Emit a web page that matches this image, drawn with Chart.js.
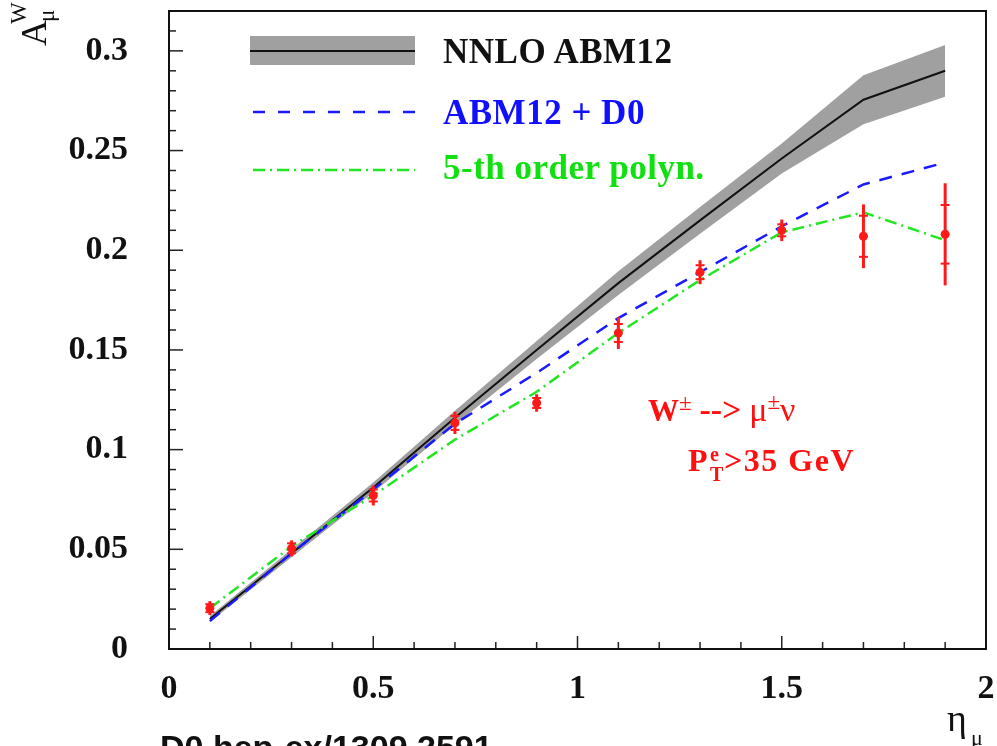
<!DOCTYPE html>
<html>
<head>
<meta charset="utf-8">
<script src="https://cdn.jsdelivr.net/npm/chart.js@4/dist/chart.umd.min.js"></script>
<style>
  html, body { margin: 0; padding: 0; background: #fff; }
  #wrap { position: relative; width: 997px; height: 746px; overflow: hidden; }
  canvas { position: absolute; left: 0; top: 0; }
  .t { position: absolute; white-space: nowrap; line-height: 1; font-family: "Liberation Serif", "Times New Roman", serif; }
  .b { font-weight: bold; }
  .s { position: absolute; line-height: 1; }
</style>
</head>
<body>
<div id="wrap">
  <canvas id="c" width="997" height="746"></canvas>

  <div class="t b" style="left:443px; top:34px; font-size:35px; letter-spacing:0.5px; color:#111;">NNLO ABM12</div>
  <div class="t b" style="left:443px; top:95px; font-size:35px; letter-spacing:0.5px; color:#1010ff;">ABM12 + D0</div>
  <div class="t b" style="left:443px; top:150px; font-size:35px; letter-spacing:0.5px; color:#10e010;">5-th order polyn.</div>

  <div class="t" style="left:648px; top:393px; font-size:31px; color:#ff1010;">
    <span class="b">W</span><span style="position:relative; top:-11px; font-size:23px;">±</span>
    <span class="b" style="font-size:34px;">--&gt;</span> <span style="font-size:34px;">μ</span><span style="position:relative; top:-12px; font-size:23px;">±</span><span style="font-size:34px;">ν</span>
  </div>
  <div class="t b" style="left:688px; top:444px; font-size:32px; letter-spacing:1.5px; color:#ff1010;">
    P<span style="display:inline-block; position:relative; width:15px; height:20px;"><span class="s" style="left:1px; top:-7px; font-size:20px;">e</span><span class="s" style="left:1px; top:13px; font-size:20px;">T</span></span>&gt;35 GeV
  </div>

  <div class="t" style="left:16px; top:46px; font-size:36px; color:#111; transform-origin:left top; transform:rotate(-90deg);">
    A<span class="s" style="left:22px; top:-9px; font-size:23px;">W</span><span class="s" style="left:24px; top:19px; font-size:23px;">μ</span>
  </div>

  <div class="t" style="left:947px; top:699px; font-size:38px; color:#111;">η</div>
  <div class="t" style="left:971px; top:727px; font-size:22px; color:#111;">μ</div>

  <div style="position:absolute; left:160px; top:730px; font-family:'Liberation Sans', Arial, sans-serif; font-weight:bold; font-size:34px; line-height:1; color:#111; white-space:nowrap;">D0 hep-ex/1309.2591</div>
</div>

<script>
// ---- data ----
const eta      = [0.1, 0.3, 0.5, 0.7, 0.9, 1.1, 1.3, 1.5, 1.7, 1.9];
const nnlo     = [0.015, 0.048, 0.081, 0.116, 0.150, 0.1835, 0.215, 0.246, 0.2755, 0.290];
const nnloUnc  = [0.0015, 0.002, 0.0025, 0.0035, 0.0045, 0.006, 0.0067, 0.0075, 0.0123, 0.013];
const abmD0    = [0.014, 0.048, 0.080, 0.113, 0.1385, 0.166, 0.189, 0.212, 0.233, 0.244];
const poly5    = [0.0205, 0.0515, 0.077, 0.105, 0.129, 0.1585, 0.185, 0.209, 0.219, 0.205];
const d0Asym   = [0.0205, 0.0505, 0.077, 0.1134, 0.1234, 0.1585, 0.189, 0.210, 0.207, 0.208];
const d0Tot    = [0.0035, 0.004, 0.005, 0.0056, 0.0044, 0.008, 0.006, 0.0054, 0.016, 0.0256];
const d0Stat   = [0.002, 0.0025, 0.003, 0.0035, 0.0025, 0.0045, 0.0035, 0.003, 0.0103, 0.0147];
const xTicks   = [0, 0.5, 1, 1.5, 2];
const yTicks   = [0, 0.05, 0.1, 0.15, 0.2, 0.25, 0.3];

const pts = arr => eta.map((x, i) => ({ x: x, y: arr[i] }));

const errorBars = {
  id: 'errorBars',
  afterDatasetsDraw(chart) {
    const xs = chart.scales.x, ys = chart.scales.y, ctx = chart.ctx;
    ctx.save();
    ctx.strokeStyle = '#ff1a1a';
    eta.forEach((x, i) => {
      const px = xs.getPixelForValue(x);
      const t = ys.getPixelForValue(d0Asym[i] + d0Tot[i]);
      const b = ys.getPixelForValue(d0Asym[i] - d0Tot[i]);
      ctx.lineWidth = 3;
      ctx.beginPath(); ctx.moveTo(px, t); ctx.lineTo(px, b); ctx.stroke();
      ctx.lineWidth = 2;
      [d0Asym[i] + d0Stat[i], d0Asym[i] - d0Stat[i]].forEach(v => {
        const py = ys.getPixelForValue(v);
        ctx.beginPath(); ctx.moveTo(px - 4.5, py); ctx.lineTo(px + 4.5, py); ctx.stroke();
      });
    });
    ctx.restore();
  }
};

const frameTicks = {
  id: 'frameTicks',
  afterDraw(chart) {
    const xs = chart.scales.x, ys = chart.scales.y, ctx = chart.ctx, a = chart.chartArea;
    ctx.save();
    ctx.strokeStyle = '#222';
    ctx.lineWidth = 1.5;
    for (let k = 0; k <= 20; k++) {
      const v = k / 10;
      const px = xs.getPixelForValue(v);
      const len = (k % 5 === 0) ? 13 : 7;
      ctx.beginPath(); ctx.moveTo(px, a.bottom); ctx.lineTo(px, a.bottom - len); ctx.stroke();
    }
    for (let k = 0; k <= 32; k++) {
      const v = k / 100;
      const py = ys.getPixelForValue(v);
      const len = (k % 5 === 0) ? 14 : 7;
      ctx.beginPath(); ctx.moveTo(a.left, py); ctx.lineTo(a.left + len, py); ctx.stroke();
    }
    ctx.lineWidth = 2;
    ctx.strokeStyle = '#111';
    ctx.strokeRect(a.left, a.top, a.right - a.left, a.bottom - a.top);

    // legend samples
    ctx.fillStyle = '#a0a0a0';
    ctx.fillRect(250, 36, 165, 29);
    ctx.strokeStyle = '#111'; ctx.lineWidth = 2;
    ctx.beginPath(); ctx.moveTo(250, 51); ctx.lineTo(415, 51); ctx.stroke();
    ctx.strokeStyle = '#1a1aff'; ctx.lineWidth = 2.5; ctx.setLineDash([12, 13]);
    ctx.beginPath(); ctx.moveTo(253, 112); ctx.lineTo(415, 112); ctx.stroke();
    ctx.strokeStyle = '#22e622'; ctx.setLineDash([12, 5, 2, 5]);
    ctx.beginPath(); ctx.moveTo(253, 170); ctx.lineTo(415, 170); ctx.stroke();
    ctx.restore();
  }
};

const noPad = s => { s.paddingTop = 0; s.paddingBottom = 0; s.paddingLeft = 0; s.paddingRight = 0; };

new Chart(document.getElementById('c'), {
  type: 'line',
  data: {
    datasets: [
      { label: 'band hi', data: eta.map((x, i) => ({ x: x, y: nnlo[i] + nnloUnc[i] })), borderWidth: 0, pointRadius: 0, fill: '+1', backgroundColor: '#a0a0a0', borderColor: 'rgba(0,0,0,0)', order: 5 },
      { label: 'band lo', data: eta.map((x, i) => ({ x: x, y: nnlo[i] - nnloUnc[i] })), borderWidth: 0, pointRadius: 0, fill: false, borderColor: 'rgba(0,0,0,0)', order: 5 },
      { label: 'NNLO ABM12', data: pts(nnlo), borderColor: '#111', borderWidth: 2, pointRadius: 0, fill: false, order: 3 },
      { label: 'ABM12 + D0', data: pts(abmD0), borderColor: '#1a1aff', borderWidth: 2.5, borderDash: [13, 10], pointRadius: 0, fill: false, order: 2 },
      { label: '5-th order polyn.', data: pts(poly5), borderColor: '#22e622', borderWidth: 2.5, borderDash: [12, 5, 2, 5], pointRadius: 0, fill: false, order: 1 },
      { label: 'D0 data', data: pts(d0Asym), showLine: false, pointRadius: 4.5, pointBackgroundColor: '#ff1a1a', pointBorderColor: '#ff1a1a', pointBorderWidth: 0, order: 0 }
    ]
  },
  options: {
    responsive: false,
    animation: false,
    devicePixelRatio: 1,
    layout: { padding: { left: 0, top: 11, right: 11, bottom: 0 } },
    plugins: { legend: { display: false }, tooltip: { enabled: false } },
    elements: { line: { tension: 0 } },
    scales: {
      x: {
        type: 'linear', min: 0, max: 2,
        afterBuildTicks: s => { s.ticks = xTicks.map(v => ({ value: v })); },
        afterFit: s => { s.height = 97; noPad(s); },
        grid: { display: false, drawTicks: false },
        border: { display: false },
        ticks: { padding: 20, maxRotation: 0, autoSkip: false, color: '#111',
                 font: { family: 'Liberation Serif', weight: 'bold', size: 34 },
                 callback: v => String(v) }
      },
      y: {
        type: 'linear', min: 0, max: 0.32,
        afterBuildTicks: s => { s.ticks = yTicks.map(v => ({ value: v })); },
        afterFit: s => { s.width = 169; noPad(s); },
        grid: { display: false, drawTicks: false },
        border: { display: false },
        ticks: { padding: 41, autoSkip: false, color: '#111',
                 font: { family: 'Liberation Serif', weight: 'bold', size: 34 },
                 callback: v => String(parseFloat(v.toFixed(2))) }
      }
    }
  },
  plugins: [errorBars, frameTicks]
});
</script>
</body>
</html>
